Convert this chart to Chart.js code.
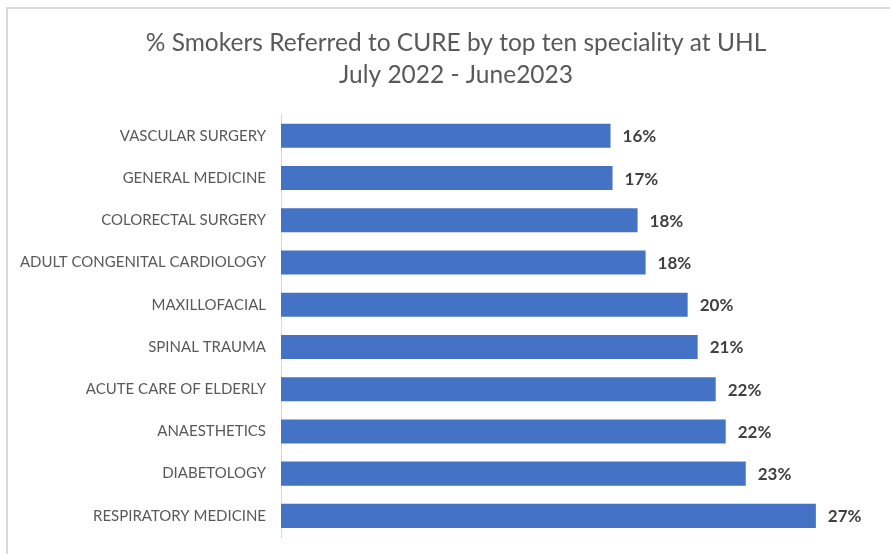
<!DOCTYPE html>
<html>
<head>
<meta charset="utf-8">
<script src="https://cdn.jsdelivr.net/npm/chart.js@4.4.0/dist/chart.umd.min.js"></script>
<style>
  html, body { margin: 0; padding: 0; background: #fff; overflow: hidden; }
  #frame {
    position: absolute; left: 6px; top: 7px; width: 900px; height: 560px;
    border: 2px solid #d9d9d9; box-sizing: border-box;
  }
  #wrap { position: absolute; left: 0; top: 0; width: 890px; height: 554px; overflow: hidden; }
</style>
</head>
<body>
<div id="frame"></div>
<div id="wrap"><canvas id="chart" width="910" height="561"></canvas></div>
<script>
const specialities = [
  'VASCULAR SURGERY',
  'GENERAL MEDICINE',
  'COLORECTAL SURGERY',
  'ADULT CONGENITAL CARDIOLOGY',
  'MAXILLOFACIAL',
  'SPINAL TRAUMA',
  'ACUTE CARE OF ELDERLY',
  'ANAESTHETICS',
  'DIABETOLOGY',
  'RESPIRATORY MEDICINE',
]

// share of smokers referred
const referredShare = [0.1645, 0.1655, 0.178, 0.182, 0.203, 0.208, 0.217, 0.222, 0.232, 0.267]

const titleLines = ['% Smokers Referred to CURE by top ten speciality at UHL', 'July 2022 - June2023']

const FONT = "Lato, 'Open Sans', sans-serif"

// draws the rounded % next to each bar
const valueLabels = {
  id: 'valueLabels',
  afterDatasetsDraw(chart) {
    const { ctx } = chart
    const meta = chart.getDatasetMeta(0)
    ctx.save()
    ctx.font = `bold 17px ${FONT}`
    ctx.fillStyle = '#404040'
    ctx.textAlign = 'left'
    ctx.textBaseline = 'middle'
    meta.data.forEach((bar, i) => {
      const value = chart.data.datasets[0].data[i]
      ctx.fillText(`${Math.round(value * 100)}%`, bar.x + 12, bar.y + 1)
    })
    ctx.restore()
  },
}

const ctx = document.getElementById('chart').getContext('2d')

new Chart(ctx, {
  type: 'bar',
  data: {
    labels: specialities,
    datasets: [
      {
        data: referredShare,
        backgroundColor: '#4472c4',
        borderWidth: 0,
        barPercentage: 0.57,
        categoryPercentage: 1,
      },
    ],
  },
  options: {
    indexAxis: 'y',
    responsive: false,
    animation: false,
    layout: {
      padding: { left: 10, right: 8, top: 0, bottom: 3 },
    },
    scales: {
      x: {
        display: false,
        min: 0,
        max: 0.31,
      },
      y: {
        afterFit(scale) {
          scale.width = 271
        },
        ticks: {
          color: '#595959',
          font: { family: FONT, size: 15 },
          padding: 15,
        },
        grid: {
          display: false,
          drawTicks: false,
        },
        border: {
          color: '#d9d9d9',
          width: 1,
        },
      },
    },
    plugins: {
      legend: { display: false },
      tooltip: { enabled: false },
      title: {
        display: true,
        text: titleLines,
        color: '#595959',
        font: { family: FONT, size: 24.5, weight: 'normal', lineHeight: 1.3 },
        padding: { top: 27, bottom: 24 },
      },
    },
  },
  plugins: [valueLabels],
})
</script>
</body>
</html>
